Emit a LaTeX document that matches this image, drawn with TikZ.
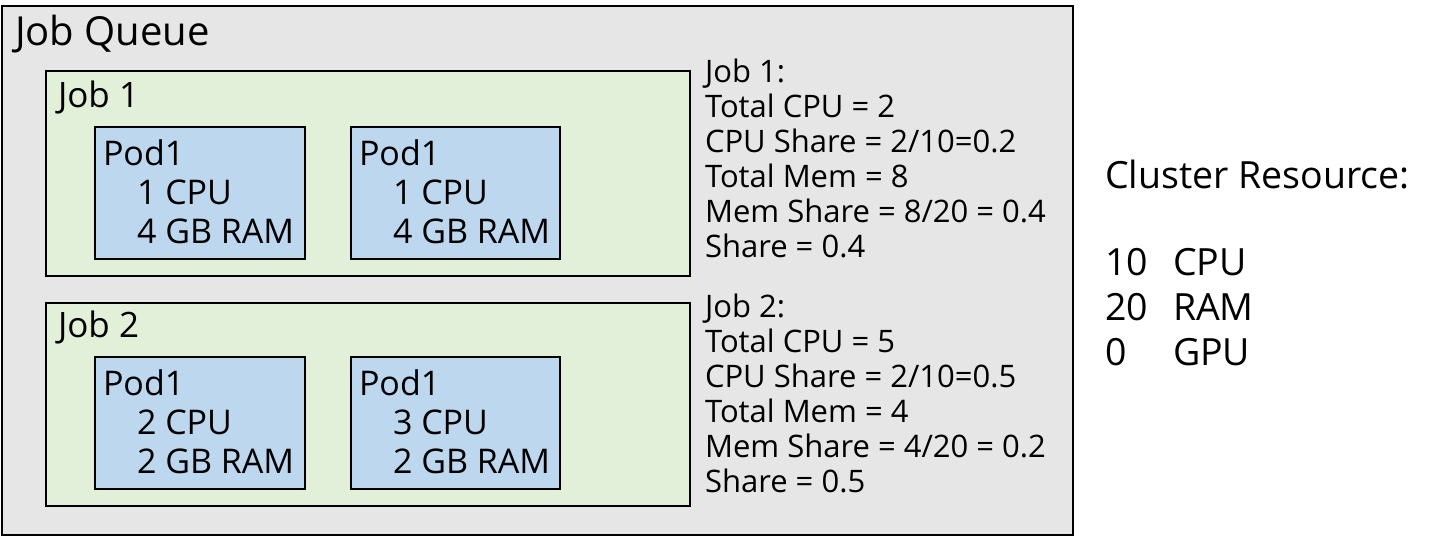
\documentclass[tikz,border=0pt]{standalone}
\usepackage{fontspec}
\setmainfont{Open Sans}
\definecolor{qgray}{HTML}{E7E6E6}
\definecolor{jgreen}{HTML}{E2F0D9}
\definecolor{pblue}{HTML}{BDD7EE}
\begin{document}
\begin{tikzpicture}[x=1pt,y=-1pt,
  box/.style={draw=black,line width=2pt,anchor=north west,inner sep=0pt,outer sep=0pt},
  queuebox/.style={box,fill=qgray},
  jobbox/.style={box,fill=jgreen},
  podbox/.style={box,fill=pblue},
  txt/.style={anchor=base west,inner sep=0pt,outer sep=0pt,text=black},
  qtitle/.style={txt,font=\fontsize{40}{40}\selectfont},
  jtitle/.style={txt,font=\fontsize{35}{35}\selectfont},
  podtxt/.style={txt,font=\fontsize{34}{34}\selectfont},
  infotxt/.style={txt,font=\fontsize{31}{31}\selectfont},
  clustxt/.style={txt,font=\fontsize{37.5}{37.5}\selectfont}]
\useasboundingbox (0,0) rectangle (1432,538);
% boxes
\node[queuebox,minimum width=1071pt,minimum height=529pt] (queue) at (2,6) {};
\node[jobbox,minimum width=644pt,minimum height=205pt] (job1) at (46,71) {};
\node[jobbox,minimum width=644pt,minimum height=203pt] (job2) at (46,303) {};
\node[podbox,minimum width=210pt,minimum height=132pt] (p11) at (95,127) {};
\node[podbox,minimum width=209pt,minimum height=132pt] (p12) at (351,127) {};
\node[podbox,minimum width=210pt,minimum height=132pt] (p21) at (95,357) {};
\node[podbox,minimum width=209pt,minimum height=132pt] (p22) at (351,357) {};
% titles
\node[qtitle] (tq) at (15,45) {Job Queue};
\node[jtitle] (tj1) at (58,107) {Job 1};
\node[jtitle] (tj2) at (58,337) {Job 2};
% pod texts
\node[podtxt] (p11a) at (103,165) {Pod1};
\node[podtxt] (p11b) at (137,204) {1 CPU};
\node[podtxt] (p11c) at (137,243) {4 GB RAM};
\node[podtxt] (p12a) at (359,165) {Pod1};
\node[podtxt] (p12b) at (393,204) {1 CPU};
\node[podtxt] (p12c) at (393,243) {4 GB RAM};
\node[podtxt] (p21a) at (103,395) {Pod1};
\node[podtxt] (p21b) at (137,434) {2 CPU};
\node[podtxt] (p21c) at (137,473) {2 GB RAM};
\node[podtxt] (p22a) at (359,395) {Pod1};
\node[podtxt] (p22b) at (393,434) {3 CPU};
\node[podtxt] (p22c) at (393,473) {2 GB RAM};
% job info
\node[infotxt] (i1a) at (705,82) {Job 1:};
\node[infotxt] (i1b) at (705,117) {Total CPU = 2};
\node[infotxt] (i1c) at (705,152) {CPU Share = 2/10=0.2};
\node[infotxt] (i1d) at (705,187) {Total Mem = 8};
\node[infotxt] (i1e) at (705,222) {Mem Share = 8/20 = 0.4};
\node[infotxt] (i1f) at (705,257) {Share = 0.4};
\node[infotxt] (i2a) at (705,317) {Job 2:};
\node[infotxt] (i2b) at (705,352) {Total CPU = 5};
\node[infotxt] (i2c) at (705,387) {CPU Share = 2/10=0.5};
\node[infotxt] (i2d) at (705,422) {Total Mem = 4};
\node[infotxt] (i2e) at (705,457) {Mem Share = 4/20 = 0.2};
\node[infotxt] (i2f) at (705,492) {Share = 0.5};
% cluster
\node[clustxt] (c0) at (1105,188) {Cluster Resource:};
\node[clustxt] (c1) at (1105,275) {10};
\node[clustxt] (c1b) at (1173,275) {CPU};
\node[clustxt] (c2) at (1105,320) {20};
\node[clustxt] (c2b) at (1173,320) {RAM};
\node[clustxt] (c3) at (1105,365) {0};
\node[clustxt] (c3b) at (1173,365) {GPU};
\end{tikzpicture}
\end{document}
